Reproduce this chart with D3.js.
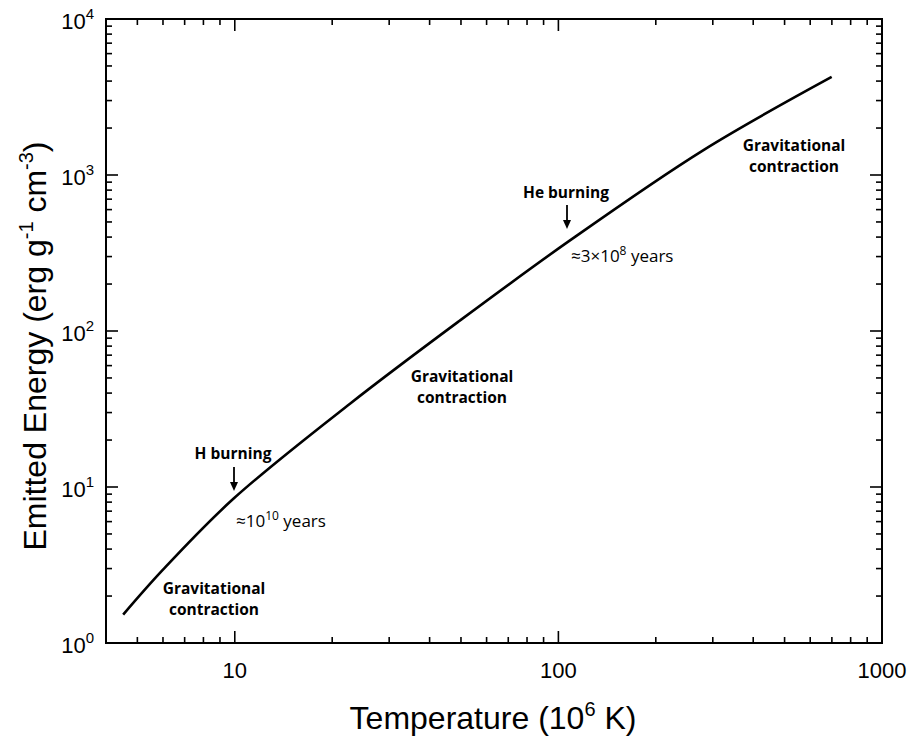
<!DOCTYPE html>
<html>
<head>
<meta charset="utf-8">
<script src="https://cdn.jsdelivr.net/npm/d3@7"></script>
<style>
    body { margin: 0; background: #fff; }
    .tick-label { font-family: "Liberation Sans", Arial, sans-serif; font-size: 22px; fill: #000; }
    .title { font-family: "Liberation Sans", Arial, sans-serif; font-size: 32px; fill: #000; }
    .note-b { font-family: "Open Sans", sans-serif; font-weight: 700; font-size: 15.5px; fill: #000; }
    .note { font-family: "Open Sans", sans-serif; font-size: 17px; fill: #000; }
</style>
</head>
<body>
<svg id="chart"></svg>
<script>
    const width = 916;
    const height = 742;

    // curve (T in 10^6 K, energy in erg/g/cm^3)
    const temperature = [4.52, 6.0, 9.9, 22.7, 49.7, 108.6, 280, 699];
    const energy = [1.52, 2.95, 8.4, 34.2, 117, 381, 1440, 4250];

    const xTickValues = [10, 100, 1000];
    const yTickExponents = [0, 1, 2, 3, 4];

    const margin = { left: 106, right: 34, top: 19, bottom: 99 };

    const svg = d3.select('#chart').attr('width', width).attr('height', height);

    const x = d3.scaleLog().domain([4, 1000]).range([margin.left, width - margin.right]);
    const y = d3.scaleLog().domain([1, 1e4]).range([height - margin.bottom, margin.top]);

    const x0 = x.range()[0], x1 = x.range()[1];
    const y0 = y.range()[0], y1 = y.range()[1];

    // ticks, all pointing inward on four sides
    const xMinor = [];
    [1, 10, 100].forEach(d => { for (let k = 1; k <= 9; k++) { const v = d * k; if (v >= 4 && v <= 1000) xMinor.push(v); } });
    const yMinor = [];
    [1, 10, 100, 1000].forEach(d => { for (let k = 2; k <= 9; k++) yMinor.push(d * k); });

    const ticks = svg.append('g').attr('stroke', '#000').attr('stroke-width', 1.6);
    xMinor.forEach(v => {
        const len = xTickValues.includes(v) ? 12 : 6;
        ticks.append('line').attr('x1', x(v)).attr('x2', x(v)).attr('y1', y0).attr('y2', y0 - len);
        ticks.append('line').attr('x1', x(v)).attr('x2', x(v)).attr('y1', y1).attr('y2', y1 + len);
    });
    yTickExponents.forEach(e => {
        const v = Math.pow(10, e);
        ticks.append('line').attr('x1', x0).attr('x2', x0 + 12).attr('y1', y(v)).attr('y2', y(v));
        ticks.append('line').attr('x1', x1).attr('x2', x1 - 12).attr('y1', y(v)).attr('y2', y(v));
    });
    yMinor.forEach(v => {
        ticks.append('line').attr('x1', x0).attr('x2', x0 + 6).attr('y1', y(v)).attr('y2', y(v));
        ticks.append('line').attr('x1', x1).attr('x2', x1 - 6).attr('y1', y(v)).attr('y2', y(v));
    });

    svg.append('rect')
        .attr('x', x0).attr('y', y1).attr('width', x1 - x0).attr('height', y0 - y1)
        .attr('fill', 'none').attr('stroke', '#000').attr('stroke-width', 2);

    // tick labels
    xTickValues.forEach(v => {
        svg.append('text').attr('class', 'tick-label')
            .attr('x', x(v)).attr('y', y0 + 35).attr('text-anchor', 'middle').text(v);
    });
    yTickExponents.forEach(e => {
        const t = svg.append('text').attr('class', 'tick-label')
            .attr('x', x0 - 12).attr('y', y(Math.pow(10, e)) + 10).attr('text-anchor', 'end');
        t.append('tspan').text('10');
        t.append('tspan').attr('dy', -10).attr('font-size', 15).text(e);
    });

    // axis titles
    const xt = svg.append('text').attr('class', 'title')
        .attr('x', 493).attr('y', 729).attr('text-anchor', 'middle');
    xt.append('tspan').text('Temperature (10');
    xt.append('tspan').attr('dy', -13).attr('font-size', 20).text('6');
    xt.append('tspan').attr('dy', 13).text(' K)');

    const yt = svg.append('text').attr('class', 'title')
        .attr('transform', 'translate(46,346) rotate(-90)').attr('text-anchor', 'middle');
    yt.append('tspan').text('Emitted Energy (erg g');
    yt.append('tspan').attr('dy', -13).attr('font-size', 20).text('-1');
    yt.append('tspan').attr('dy', 13).text(' cm');
    yt.append('tspan').attr('dy', -13).attr('font-size', 20).text('-3');
    yt.append('tspan').attr('dy', 13).text(')');

    // curve
    const line = d3.line()
        .x((d, i) => x(temperature[i]))
        .y((d, i) => y(energy[i]))
        .curve(d3.curveCatmullRom.alpha(0.5));
    svg.append('path').datum(temperature)
        .attr('d', line)
        .attr('fill', 'none').attr('stroke', '#000').attr('stroke-width', 2.6);

    // annotations
    function twoLine(cx, by, a, b) {
        svg.append('text').attr('class', 'note-b').attr('x', cx).attr('y', by).attr('text-anchor', 'middle').text(a);
        svg.append('text').attr('class', 'note-b').attr('x', cx).attr('y', by + 21).attr('text-anchor', 'middle').text(b);
    }
    twoLine(214, 594, 'Gravitational', 'contraction');
    twoLine(462, 382, 'Gravitational', 'contraction');
    twoLine(794, 151, 'Gravitational', 'contraction');

    svg.append('text').attr('class', 'note-b').attr('x', 233).attr('y', 459).attr('text-anchor', 'middle').text('H burning');
    svg.append('text').attr('class', 'note-b').attr('x', 566).attr('y', 198).attr('text-anchor', 'middle').text('He burning');

    function arrow(ax, ya, yb) {
        svg.append('line').attr('x1', ax).attr('x2', ax).attr('y1', ya).attr('y2', yb - 6)
            .attr('stroke', '#000').attr('stroke-width', 1.8);
        svg.append('path').attr('d', `M${ax - 4},${yb - 9}L${ax + 4},${yb - 9}L${ax},${yb}Z`).attr('fill', '#000');
    }
    arrow(234, 467, 491);
    arrow(567, 205, 229);

    const n1 = svg.append('text').attr('class', 'note').attr('x', 236).attr('y', 527);
    n1.append('tspan').text('\u224810');
    n1.append('tspan').attr('dy', -7).attr('font-size', 12).text('10');
    n1.append('tspan').attr('dy', 7).text(' years');

    const n2 = svg.append('text').attr('class', 'note').attr('x', 571).attr('y', 262);
    n2.append('tspan').text('\u22483\u00d710');
    n2.append('tspan').attr('dy', -7).attr('font-size', 12).text('8');
    n2.append('tspan').attr('dy', 7).text(' years');
</script>
</body>
</html>
